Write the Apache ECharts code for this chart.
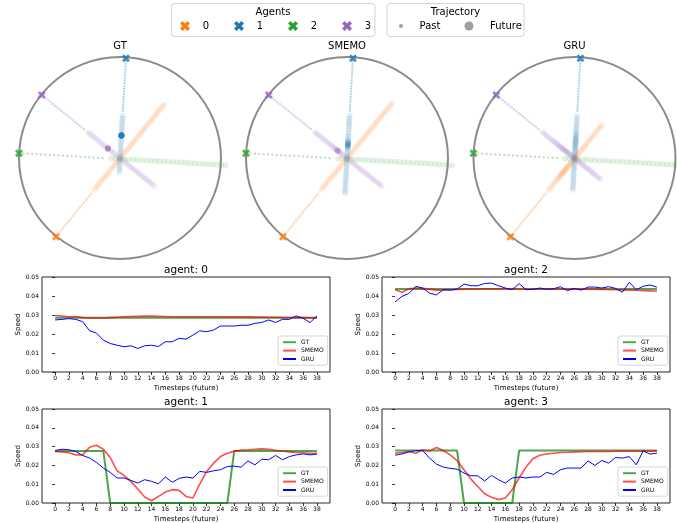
<!DOCTYPE html>
<html>
<head>
<meta charset="utf-8">
<script src="https://cdn.jsdelivr.net/npm/echarts@6/dist/echarts.min.js"></script>
<style>
  html, body { margin: 0; padding: 0; background: #fff; }
  #chart { width: 677px; height: 523px; }
</style>
</head>
<body>
<div id="chart"></div>
<script>
// ---- data ----
const timesteps = [0,1,2,3,4,5,6,7,8,9,10,11,12,13,14,15,16,17,18,19,20,21,22,23,24,25,26,27,28,29,30,31,32,33,34,35,36,37,38];
const xTicks = [0,2,4,6,8,10,12,14,16,18,20,22,24,26,28,30,32,34,36,38];

const agentNames = ['0', '1', '2', '3'];
const agentColors = ['#ff7f0e', '#1f77b4', '#2ca02c', '#9467bd'];
// start of the past (X marker, on the unit circle) and current position (end of past)
const agentStart = [[-0.634, -0.779], [0.059, 0.987], [-1.0, 0.047], [-0.775, 0.624]];
const agentNow = [[-0.27, -0.334], [0.027, 0.443], [-0.132, -0.003], [-0.337, 0.27]];
const pastSteps = 20;

const models = ['GT', 'SMEMO', 'GRU'];

const gtSpeed0 = [0.0285,0.0285,0.0285,0.0285,0.0285,0.0285,0.0285,0.0285,0.0285,0.0285,0.0285,0.0285,0.0285,0.0285,0.0285,0.0285,0.0285,0.0285,0.0285,0.0285,0.0285,0.0285,0.0285,0.0285,0.0285,0.0285,0.0285,0.0285,0.0285,0.0285,0.0285,0.0285,0.0285,0.0285,0.0285,0.0285,0.0285,0.0285,0.0285];
const gtSpeed1 = [0.0277,0.0277,0.0277,0.0277,0.0277,0.0277,0.0277,0.0277,0,0,0,0,0,0,0,0,0,0,0,0,0,0,0,0,0,0,0.0277,0.0277,0.0277,0.0277,0.0277,0.0277,0.0277,0.0277,0.0277,0.0277,0.0277,0.0277,0.0277];
const gtSpeed2 = [0.0437,0.0437,0.0437,0.0437,0.0437,0.0437,0.0437,0.0437,0.0437,0.0437,0.0437,0.0437,0.0437,0.0437,0.0437,0.0437,0.0437,0.0437,0.0437,0.0437,0.0437,0.0437,0.0437,0.0437,0.0437,0.0437,0.0437,0.0437,0.0437,0.0437,0.0437,0.0437,0.0437,0.0437,0.0437,0.0437,0.0437,0.0437,0.0437];
const gtSpeed3 = [0.0279,0.0279,0.0279,0.0279,0.0279,0.0279,0.0279,0.0279,0.0279,0.0279,0,0,0,0,0,0,0,0,0.0279,0.0279,0.0279,0.0279,0.0279,0.0279,0.0279,0.0279,0.0279,0.0279,0.0279,0.0279,0.0279,0.0279,0.0279,0.0279,0.0279,0.0279,0.0279,0.0279,0.0279];

const smemoSpeed0 = [0.0297,0.0295,0.0291,0.0292,0.0286,0.0285,0.0284,0.0284,0.0286,0.0288,0.029,0.0292,0.0293,0.0294,0.0294,0.0293,0.0292,0.0291,0.0291,0.0291,0.0291,0.0291,0.0291,0.0291,0.0291,0.029,0.029,0.029,0.029,0.0289,0.0289,0.0288,0.0288,0.0287,0.0287,0.0286,0.0286,0.0285,0.0285];
const smemoSpeed1 = [0.0274,0.0272,0.0267,0.0256,0.0256,0.0297,0.0307,0.0286,0.0242,0.0171,0.0147,0.0115,0.0074,0.0032,0.0012,0.0035,0.0058,0.0071,0.0067,0.0035,0.0027,0.0101,0.0168,0.0212,0.0247,0.0265,0.0276,0.0281,0.0283,0.0286,0.0288,0.0286,0.0281,0.0277,0.0272,0.0269,0.0267,0.0265,0.0265];
const smemoSpeed2 = [0.0433,0.042,0.0438,0.0442,0.044,0.0436,0.0431,0.0431,0.0433,0.0435,0.0436,0.0437,0.0437,0.0438,0.0438,0.0438,0.0438,0.0438,0.0437,0.0437,0.0437,0.0437,0.0437,0.0437,0.0437,0.0437,0.0437,0.0436,0.0436,0.0436,0.0435,0.0434,0.0433,0.0432,0.0431,0.043,0.0428,0.0427,0.0425];
const smemoSpeed3 = [0.0265,0.0269,0.0274,0.0265,0.0283,0.0277,0.0295,0.0279,0.0256,0.0226,0.0177,0.0127,0.0088,0.0049,0.003,0.0018,0.0027,0.0071,0.0133,0.0191,0.0235,0.0254,0.0261,0.0265,0.0269,0.027,0.0272,0.0273,0.0274,0.0274,0.0274,0.0274,0.0275,0.0275,0.0275,0.0275,0.0276,0.0276,0.0276];

const gruSpeed0 = [0.0274,0.0277,0.0281,0.0277,0.0265,0.0217,0.0205,0.0168,0.015,0.0141,0.0133,0.0138,0.0124,0.0138,0.0141,0.0134,0.0159,0.0159,0.0177,0.0173,0.0194,0.0217,0.0212,0.0221,0.0242,0.0242,0.0242,0.0246,0.0246,0.0256,0.0261,0.0274,0.0261,0.0277,0.0277,0.0295,0.0283,0.026,0.0295];
const gruSpeed1 = [0.0279,0.0286,0.0283,0.0274,0.0253,0.0239,0.0216,0.0186,0.0163,0.0133,0.0133,0.012,0.0106,0.0124,0.0115,0.0102,0.0138,0.011,0.0131,0.0138,0.0133,0.0168,0.0163,0.0171,0.0177,0.0194,0.0196,0.0191,0.0224,0.0203,0.0233,0.023,0.0253,0.023,0.0247,0.0256,0.0261,0.0256,0.026];
const gruSpeed2 = [0.0369,0.0398,0.0413,0.0451,0.0442,0.0415,0.0406,0.0433,0.0431,0.0436,0.0463,0.0454,0.0454,0.0466,0.0468,0.0454,0.0442,0.0433,0.0465,0.0433,0.0435,0.0442,0.0436,0.0438,0.0449,0.0428,0.044,0.0431,0.0447,0.0447,0.0442,0.0449,0.044,0.042,0.0472,0.0433,0.0451,0.0458,0.0447];
const gruSpeed3 = [0.0254,0.0261,0.0272,0.0279,0.0279,0.0239,0.0207,0.0191,0.0184,0.018,0.0159,0.0145,0.0145,0.0117,0.0147,0.0124,0.0106,0.0133,0.0138,0.0133,0.0138,0.0138,0.0163,0.0152,0.0177,0.0186,0.0186,0.0186,0.0224,0.02,0.0226,0.0212,0.0242,0.0239,0.0247,0.0203,0.0277,0.026,0.0265];

const speeds = {
  GT: [gtSpeed0, gtSpeed1, gtSpeed2, gtSpeed3],
  SMEMO: [smemoSpeed0, smemoSpeed1, smemoSpeed2, smemoSpeed3],
  GRU: [gruSpeed0, gruSpeed1, gruSpeed2, gruSpeed3]
};

// ---- layout / style ----
const FONT = 'DejaVu Sans';
const PX_PER_UNIT = 101;
const EXTENT = 1.06;
const panelCx = [120, 347, 574.5];
const panelCy = 158;
const lineColors = { GT: '#008000', SMEMO: '#ff0000', GRU: '#0000ff' };
const lineWidths = { GT: 2, SMEMO: 1.6, GRU: 1 };
const lineOpacity = { GT: 0.7, SMEMO: 0.7, GRU: 1 };
const speedPanels = [
  { agent: 0, left: 42, top: 277, height: 95 },
  { agent: 2, left: 382, top: 277, height: 95 },
  { agent: 1, left: 42, top: 409, height: 94 },
  { agent: 3, left: 382, top: 409, height: 94 }
];

const crossUnit = [[0,2.5],[2.5,0],[5,2.5],[7.5,0],[10,2.5],[7.5,5],[10,7.5],[7.5,10],[5,7.5],[2.5,10],[0,7.5],[2.5,5]];
const CROSS = 'path://M' + crossUnit.map(p => p.join(',')).join('L') + 'Z';
function crossAt(cx, cy, s) {
  return crossUnit.map(p => [cx + (p[0] - 5) * s / 10, cy + (p[1] - 5) * s / 10]);
}

// future positions: walk from the current position along the heading by each step's speed
function futurePath(agent, sp) {
  const s = agentStart[agent], n = agentNow[agent];
  const dx = n[0] - s[0], dy = n[1] - s[1], len = Math.hypot(dx, dy);
  let x = n[0], y = n[1];
  return sp.map(v => { x += v * dx / len; y += v * dy / len; return [x, y]; });
}

const grid = [], xAxis = [], yAxis = [], series = [], legend = [], graphic = [];

// ---- trajectory panels ----
models.forEach((m, pi) => {
  const half = EXTENT * PX_PER_UNIT;
  grid.push({ left: panelCx[pi] - half, top: panelCy - half, width: 2 * half, height: 2 * half, outerBoundsMode: 'none' });
  xAxis.push({ gridIndex: pi, type: 'value', min: -EXTENT, max: EXTENT, show: false });
  yAxis.push({ gridIndex: pi, type: 'value', min: -EXTENT, max: EXTENT, show: false });

  series.push({
    type: 'scatter', xAxisIndex: pi, yAxisIndex: pi, silent: true, z: 1,
    data: [[0, 0]], symbolSize: 2 * PX_PER_UNIT,
    itemStyle: { color: 'rgba(0,0,0,0)', borderColor: '#6e6e6e', borderWidth: 2 }
  });

  agentNames.forEach((name, a) => {
    const s = agentStart[a], n = agentNow[a];
    const gap = Math.hypot(n[0] - s[0], n[1] - s[1]) * PX_PER_UNIT / pastSteps;
    series.push({
      type: 'line', xAxisIndex: pi, yAxisIndex: pi, silent: true, z: 2,
      data: [s, n], symbol: 'none',
      lineStyle: { color: agentColors[a], opacity: 0.3, width: 2.4, type: [0.01, gap], cap: 'round' }
    });
    series.push({
      type: 'scatter', xAxisIndex: pi, yAxisIndex: pi, silent: true, z: 3, clip: true,
      data: futurePath(a, speeds[m][a]), symbolSize: 6,
      itemStyle: { color: agentColors[a], opacity: 0.13 }
    });
  });

  series.push({
    type: 'scatter', xAxisIndex: pi, yAxisIndex: pi, silent: true, z: 5,
    symbol: CROSS, symbolSize: 8,
    data: agentStart.map((p, a) => ({ value: p, itemStyle: { color: agentColors[a] } }))
  });

  graphic.push({
    type: 'text', x: panelCx[pi], y: 46,
    style: { text: m, fontSize: 10, fontFamily: FONT, fill: '#000', align: 'center', verticalAlign: 'middle' }
  });
});

// ---- speed panels ----
speedPanels.forEach((p, k) => {
  const gi = 3 + k;
  grid.push({
    left: p.left, top: p.top, width: 288, height: p.height, outerBoundsMode: 'none',
    show: true, borderColor: '#111', borderWidth: 0.9
  });
  xAxis.push({
    gridIndex: gi, type: 'value', min: -1.9, max: 39.9,
    name: 'Timesteps (future)', nameLocation: 'middle', nameGap: 12.5,
    nameTextStyle: { fontSize: 7, fontFamily: FONT, color: '#000' },
    axisLine: { show: false },
    axisTick: { show: true, length: 3, customValues: xTicks, lineStyle: { color: '#000', width: 0.8 } },
    axisLabel: { customValues: xTicks, fontSize: 6, fontFamily: FONT, color: '#000', margin: 3 },
    splitLine: { show: false }
  });
  yAxis.push({
    gridIndex: gi, type: 'value', min: 0, max: 0.05, interval: 0.01,
    name: 'Speed', nameLocation: 'middle', nameGap: 20,
    nameTextStyle: { fontSize: 7, fontFamily: FONT, color: '#000' },
    axisLine: { show: false },
    axisTick: { show: true, length: 3, lineStyle: { color: '#000', width: 0.8 } },
    axisLabel: { fontSize: 6, fontFamily: FONT, color: '#000', margin: 3, formatter: v => v.toFixed(2) },
    splitLine: { show: false }
  });
  models.forEach(m => {
    series.push({
      name: m, type: 'line', xAxisIndex: gi, yAxisIndex: gi, symbol: 'none', silent: true,
      data: timesteps.map((t, i) => [t, speeds[m][p.agent][i]]),
      itemStyle: { color: lineColors[m] },
      lineStyle: { color: lineColors[m], width: lineWidths[m], opacity: lineOpacity[m] }
    });
  });
  legend.push({
    data: models, orient: 'vertical', left: p.left + 236, top: p.top + p.height - 36,
    padding: [3, 4, 3, 4], itemGap: 2, itemWidth: 13, itemHeight: 8, selectedMode: false,
    itemStyle: { opacity: 0 },
    backgroundColor: '#fff', borderColor: '#ccc', borderWidth: 0.8, borderRadius: 2,
    textStyle: { fontSize: 6, fontFamily: FONT, color: '#000' }
  });
  graphic.push({
    type: 'text', x: p.left + 144, y: p.top - 7,
    style: { text: 'agent: ' + p.agent, fontSize: 10.5, fontFamily: FONT, fill: '#000', align: 'center', verticalAlign: 'middle' }
  });
});

// ---- top legends ----
const agentsLegendX = [185, 239, 293, 347];
graphic.push(
  { type: 'rect', shape: { x: 171.5, y: 3.5, width: 203.5, height: 33, r: 3 }, style: { fill: '#fff', stroke: '#d3d3d3', lineWidth: 1 } },
  { type: 'text', x: 273, y: 12.5, style: { text: 'Agents', fontSize: 10, fontFamily: FONT, fill: '#000', align: 'center', verticalAlign: 'middle' } },
  { type: 'rect', shape: { x: 387, y: 3.5, width: 137, height: 33, r: 3 }, style: { fill: '#fff', stroke: '#d3d3d3', lineWidth: 1 } },
  { type: 'text', x: 455.5, y: 12.5, style: { text: 'Trajectory', fontSize: 10, fontFamily: FONT, fill: '#000', align: 'center', verticalAlign: 'middle' } },
  { type: 'circle', shape: { cx: 401, cy: 26, r: 2 }, style: { fill: '#a0a0a0' } },
  { type: 'text', x: 430, y: 26, style: { text: 'Past', fontSize: 10, fontFamily: FONT, fill: '#000', align: 'center', verticalAlign: 'middle' } },
  { type: 'circle', shape: { cx: 469, cy: 26, r: 4.5 }, style: { fill: '#a0a0a0' } },
  { type: 'text', x: 490, y: 26, style: { text: 'Future', fontSize: 10, fontFamily: FONT, fill: '#000', align: 'left', verticalAlign: 'middle' } }
);
agentNames.forEach((name, a) => {
  graphic.push(
    { type: 'polygon', shape: { points: crossAt(agentsLegendX[a], 26, 10) }, style: { fill: agentColors[a] } },
    { type: 'text', x: agentsLegendX[a] + 21, y: 26, style: { text: name, fontSize: 10, fontFamily: FONT, fill: '#000', align: 'center', verticalAlign: 'middle' } }
  );
});

const chart = echarts.init(document.getElementById('chart'));
chart.setOption({
  animation: false,
  backgroundColor: '#fff',
  textStyle: { fontFamily: FONT },
  grid, xAxis, yAxis, series, legend, graphic
});
</script>
</body>
</html>
